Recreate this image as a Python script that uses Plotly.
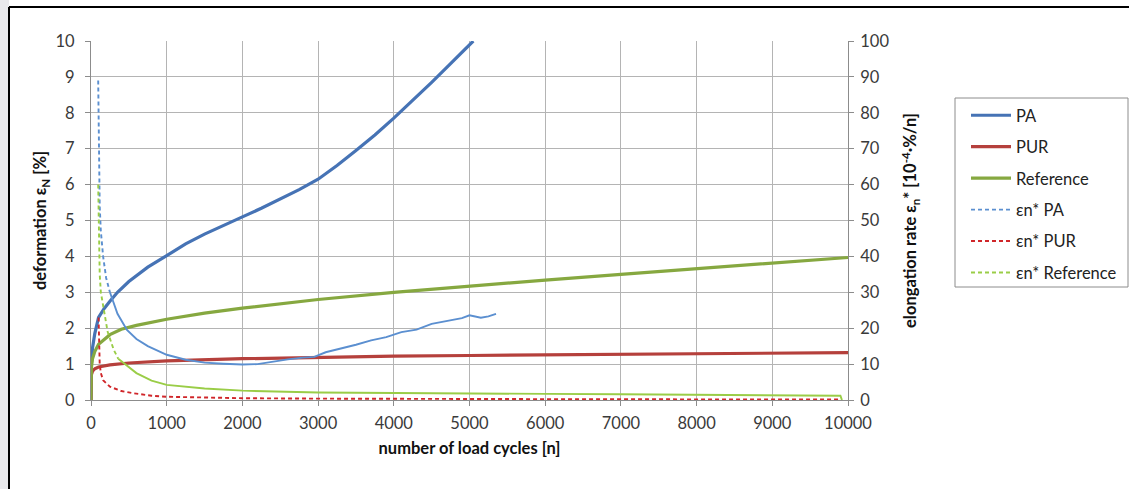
import plotly.graph_objects as go

# ---------------- data ----------------
# deformation eps_N [%] vs number of load cycles
pa_n = [0, 5, 20, 50, 100, 175, 250, 350, 500, 750, 1000, 1250, 1500, 1750, 2000, 2250, 2500, 2750, 3000,
        3250, 3500, 3750, 4000, 4250, 4500, 4750, 5000, 5050]
pa_def = [0.0, 1.0, 1.45, 1.85, 2.3, 2.55, 2.75, 3.0, 3.3, 3.7, 4.02, 4.35, 4.62, 4.87, 5.1, 5.34, 5.6, 5.86, 6.15,
          6.53, 6.95, 7.38, 7.85, 8.34, 8.85, 9.37, 9.9, 10.0]

pur_n = [0, 5, 20, 50, 100, 250, 500, 1000, 2000, 3000, 4000, 5000, 6000, 7000, 8000, 9000, 10000]
pur_def = [0.0, 0.7, 0.8, 0.87, 0.92, 0.98, 1.03, 1.09, 1.15, 1.19, 1.22, 1.24, 1.26, 1.28, 1.3, 1.31, 1.32]

ref_n = [0, 5, 20, 50, 100, 250, 400, 600, 1000, 1500, 2000, 3000, 4000, 5000, 6000, 7000, 8000, 9000, 10000]
ref_def = [0.0, 0.9, 1.15, 1.35, 1.55, 1.82, 1.97, 2.08, 2.25, 2.42, 2.56, 2.8, 3.0, 3.18, 3.34, 3.5, 3.66, 3.82, 3.97]

# elongation rate eps_n* [10^-4 %/n]  (steep start + tail)
pa_rate_n_start = [95, 100, 105, 115, 130, 160, 200, 250]
pa_rate_start = [89, 78, 66, 54, 47, 40, 34, 30]
pa_rate_n_tail = [250, 350, 475, 600, 750, 900, 1000, 1250, 1500, 1750, 2000, 2200, 2400, 2600, 2800, 2950, 3100,
                  3300, 3500, 3700, 3900, 4100, 4300, 4500, 4700, 4900, 5000, 5150, 5250, 5350]
pa_rate_tail = [30, 24, 19.5, 17, 15, 13.6, 12.6, 11.2, 10.4, 10.1, 9.9, 10.0, 10.7, 11.3, 11.8, 12.0, 13.3,
                14.3, 15.4, 16.6, 17.5, 18.9, 19.6, 21.2, 22.0, 22.8, 23.6, 22.9, 23.3, 24.0]

pur_rate_n = [100, 103, 108, 115, 130, 160, 250, 400, 550, 800, 1000, 1500, 2000, 3000, 4000, 5000, 7000, 9900]
pur_rate = [23, 18, 13, 10, 7.5, 5.5, 3.7, 2.5, 1.9, 1.2, 0.9, 0.65, 0.5, 0.38, 0.3, 0.25, 0.2, 0.15]

ref_rate_n_start = [95, 100, 105, 115, 130, 160, 220, 300, 360]
ref_rate_start = [60, 50, 42, 35, 30, 26, 19, 14, 11.5]
ref_rate_n_tail = [360, 475, 600, 800, 1000, 1500, 2000, 3000, 4000, 5000, 6000, 7000, 8000, 9000, 9900, 9920]
ref_rate_tail = [11.5, 9.5, 7.5, 5.4, 4.2, 3.2, 2.6, 2.1, 1.9, 1.8, 1.7, 1.6, 1.5, 1.4, 1.2, 0.0]

x_ticks = list(range(0, 10001, 1000))
x_ticktext = [str(v) for v in x_ticks]
y_ticks = list(range(0, 11))
y2_ticks = list(range(0, 101, 10))

# ---------------- styles ----------------
C_PA = "#4673B5"
C_PUR = "#B5403C"
C_REF = "#86A840"
C_PA_R = "#5B8FD0"
C_PUR_R = "#D0262A"
C_REF_R = "#9ACD47"
FONT = "Lato"

fig = go.Figure()

fig.add_trace(go.Scatter(x=pa_n, y=pa_def, mode="lines", name="PA",
                         line=dict(color=C_PA, width=3.2), legendgroup="a"))
fig.add_trace(go.Scatter(x=pur_n, y=pur_def, mode="lines", name="PUR",
                         line=dict(color=C_PUR, width=3.2), legendgroup="b"))
fig.add_trace(go.Scatter(x=ref_n, y=ref_def, mode="lines", name="Reference",
                         line=dict(color=C_REF, width=3.2), legendgroup="c"))

fig.add_trace(go.Scatter(x=pa_rate_n_start, y=pa_rate_start, mode="lines", name="εn* PA",
                         line=dict(color=C_PA_R, width=1.9, dash="4px,3px"),
                         legendgroup="d", yaxis="y2"))
fig.add_trace(go.Scatter(x=pa_rate_n_tail, y=pa_rate_tail, mode="lines", name="εn* PA",
                         line=dict(color=C_PA_R, width=1.9), showlegend=False,
                         legendgroup="d", yaxis="y2"))
fig.add_trace(go.Scatter(x=pur_rate_n, y=pur_rate, mode="lines", name="εn* PUR",
                         line=dict(color=C_PUR_R, width=1.9, dash="4px,3px"),
                         legendgroup="e", yaxis="y2"))
fig.add_trace(go.Scatter(x=ref_rate_n_start, y=ref_rate_start, mode="lines", name="εn* Reference",
                         line=dict(color=C_REF_R, width=1.9, dash="4px,3px"),
                         legendgroup="f", yaxis="y2"))
fig.add_trace(go.Scatter(x=ref_rate_n_tail, y=ref_rate_tail, mode="lines", name="εn* Reference",
                         line=dict(color=C_REF_R, width=1.9), showlegend=False,
                         legendgroup="f", yaxis="y2"))

L, R, T, B = 91, 281, 41, 89
W, H = 1129, 489
pw, ph = W - L - R, H - T - B


def px2paper_x(px):
    return (px - L) / pw


def px2paper_y(py):
    return (H - B - py) / ph


shapes = [
    # left grey strip
    dict(type="rect", xref="paper", yref="paper", x0=px2paper_x(0), x1=px2paper_x(9),
         y0=px2paper_y(489), y1=px2paper_y(0), fillcolor="#E9E9EC", line=dict(width=0), layer="below"),
    # outer frame
    dict(type="line", xref="paper", yref="paper", x0=px2paper_x(9), x1=px2paper_x(9),
         y0=px2paper_y(489), y1=px2paper_y(7), line=dict(color="#000000", width=2)),
    dict(type="line", xref="paper", yref="paper", x0=px2paper_x(9), x1=px2paper_x(1129),
         y0=px2paper_y(7), y1=px2paper_y(7), line=dict(color="#000000", width=2)),
    # legend box
    dict(type="rect", xref="paper", yref="paper", x0=px2paper_x(955), x1=px2paper_x(1128),
         y0=px2paper_y(287), y1=px2paper_y(98), line=dict(color="#8C8C8C", width=1)),
]

axis_common = dict(
    showline=True, linecolor="#8C8C8C", linewidth=1,
    ticks="outside", ticklen=5, tickcolor="#8C8C8C",
    tickfont=dict(family=FONT, size=16.5, color="#3A3A3A"),
    zeroline=False, automargin=False,
)
title_font = dict(family=FONT, size=16.5, color="#111111", weight="bold")

fig.update_layout(
    width=W, height=H,
    margin=dict(l=L, r=R, t=T, b=B, pad=0, autoexpand=False),
    paper_bgcolor="white", plot_bgcolor="white",
    showlegend=True,
    legend=dict(x=px2paper_x(966), y=px2paper_y(98), xanchor="left", yanchor="top",
                bgcolor="rgba(0,0,0,0)", borderwidth=0,
                font=dict(family=FONT, size=16.5, color="#222222"),
                tracegroupgap=7, itemwidth=40),
    xaxis=dict(range=[0, 10000], tickvals=x_ticks, ticktext=x_ticktext, showgrid=True,
               gridcolor="#B4B4B4", gridwidth=1, ticklabelstandoff=3,
               title=dict(text="number of load cycles [n]", standoff=10, font=title_font),
               **axis_common),
    yaxis=dict(range=[0, 10], tickvals=y_ticks, showgrid=True, gridcolor="#B4B4B4", gridwidth=1,
               ticklabelstandoff=7,
               title=dict(text="deformation ε<sub>N</sub> [%]", standoff=4, font=title_font),
               **axis_common),
    yaxis2=dict(range=[0, 100], tickvals=y2_ticks, overlaying="y", side="right", showgrid=False,
                ticklabelstandoff=3,
                title=dict(text="elongation rate ε<sub>n</sub>* [10<sup>-4</sup>·%/n]", standoff=16,
                           font=title_font),
                **axis_common),
    shapes=shapes,
)

fig.write_html("out.html", config={"displayModeBar": False},
               post_script="document.body.style.margin='0px';document.body.style.overflow='hidden';")
